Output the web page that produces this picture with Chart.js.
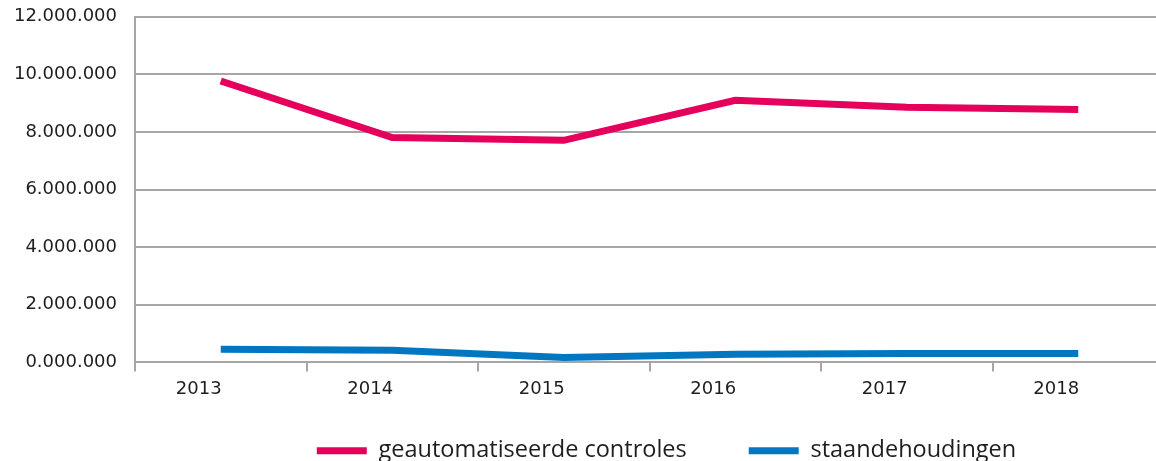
<!DOCTYPE html>
<html lang="nl">
<head>
<meta charset="UTF-8">
<title>Geautomatiseerde controles en staandehoudingen</title>
<script src="https://cdn.jsdelivr.net/npm/chart.js"></script>
<style>
  html, body { margin: 0; padding: 0; overflow: hidden; background: #fff; }
  canvas { display: block; }
</style>
</head>
<body>
<canvas id="chart" width="1164" height="477"></canvas>
<script>
// jaren en waarden
const jaren = ['2013', '2014', '2015', '2016', '2017', '2018'];
const controles = [9770000, 7810000, 7710000, 9100000, 8860000, 8780000];
const staandehoudingen = [460000, 420000, 170000, 280000, 310000, 310000];

const roze = '#e5005b';
const blauw = '#0077c0';
const grijs = '#a6a6a6';
const tekst = '#1e1e1e';

// 12000000 -> "12.000.000", 0 -> "0.000.000"
function formatNL(v) {
    const s = String(Math.round(v)).padStart(7, '0');
    return s.replace(/\B(?=(\d{3})+(?!\d))/g, '.');
}

// legenda iets omhoog en naar rechts, los van de ruimte tussen de items
const legendeVerschuiving = {
    id: 'legendeVerschuiving',
    afterLayout: function (chart) {
        const lg = chart.legend;
        lg.top -= 30;
        lg.bottom = chart.height;
        lg.left += 34;
    }
};

new Chart(document.getElementById('chart'), {
    type: 'line',
    data: {
        labels: jaren,
        datasets: [
            { label: 'geautomatiseerde controles', data: controles, borderColor: roze, backgroundColor: roze },
            { label: 'staandehoudingen', data: staandehoudingen, borderColor: blauw, backgroundColor: blauw }
        ]
    },
    plugins: [legendeVerschuiving],
    options: {
        responsive: false,
        animation: false,
        layout: { padding: 0 },
        elements: {
            line: { borderWidth: 7, tension: 0, borderCapStyle: 'butt', borderJoinStyle: 'miter' },
            point: { radius: 0, hoverRadius: 0 }
        },
        plugins: {
            tooltip: { enabled: false },
            legend: {
                position: 'bottom',
                fullSize: false,
                maxHeight: 70,
                labels: {
                    boxWidth: 50,
                    boxHeight: 7,
                    padding: 62,
                    color: tekst,
                    font: { family: 'Open Sans', size: 23.5 },
                    // geen rand om de legenda-blokjes
                    generateLabels: function (chart) {
                        return Chart.defaults.plugins.legend.labels.generateLabels(chart)
                            .map(function (l) { l.lineWidth = 0; return l; });
                    }
                }
            }
        },
        scales: {
            x: {
                offset: true,
                grid: { offset: true, drawOnChartArea: false, drawTicks: true, tickLength: 9, color: grijs, lineWidth: 2 },
                border: { display: false },
                ticks: { color: tekst, font: { family: 'DejaVu Sans', size: 18 }, padding: 7, labelOffset: -22, maxRotation: 0 }
            },
            y: {
                min: 0,
                max: 12000000,
                afterFit: function (scale) { scale.width = 135; },
                grid: { color: grijs, lineWidth: 2, drawTicks: true, tickLength: 12, tickColor: 'rgba(0,0,0,0)' },
                border: { color: grijs, width: 2 },
                ticks: {
                    stepSize: 2000000,
                    padding: 6,
                    color: tekst,
                    font: { family: 'DejaVu Sans', size: 18 },
                    callback: function (v) { return formatNL(v); }
                }
            }
        }
    }
});
</script>
</body>
</html>
